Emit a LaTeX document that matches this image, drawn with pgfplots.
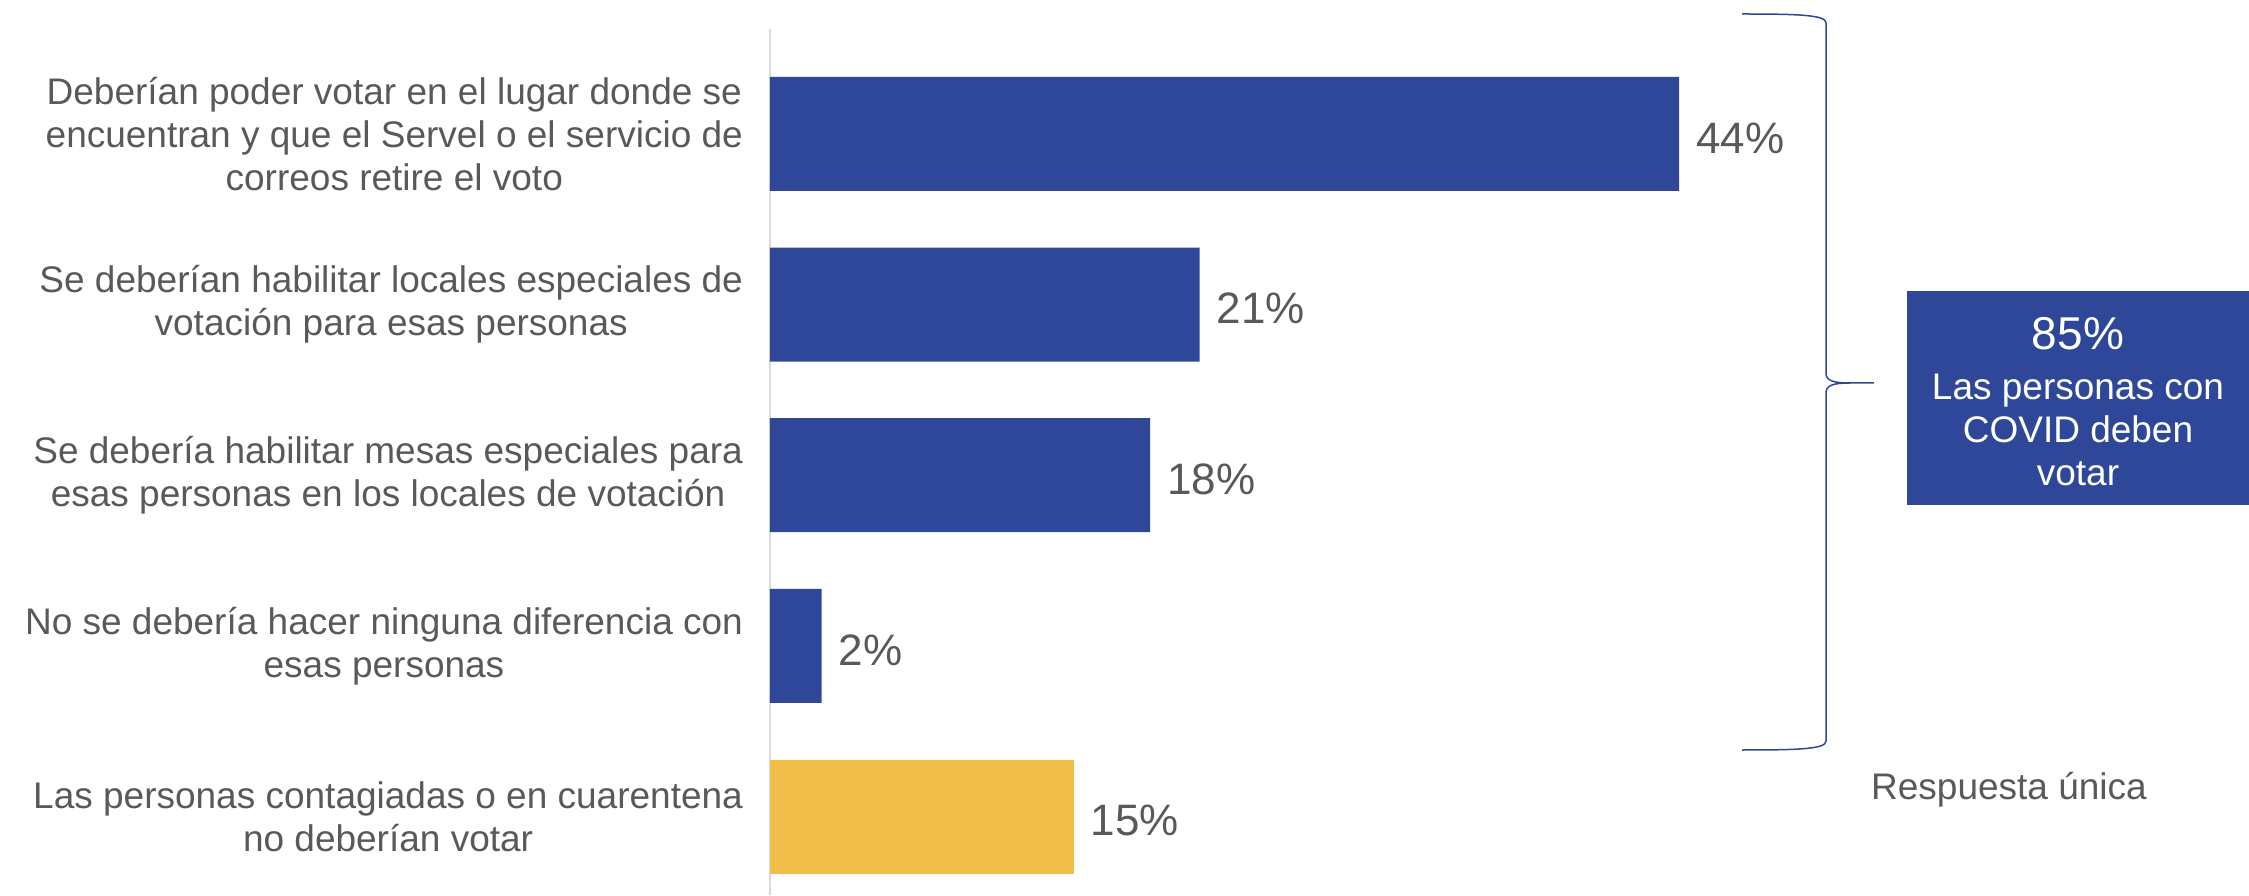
\documentclass[border=0pt]{standalone}
\usepackage{pgfplots}
\pgfplotsset{compat=1.18}
\usepackage{fontspec}
\setmainfont{Liberation Sans}
\definecolor{cblue}{HTML}{2E4799}
\definecolor{cyellow}{HTML}{F1BE4A}
\definecolor{ctext}{HTML}{595959}
\definecolor{caxis}{HTML}{D9D9D9}
\begin{document}
\begin{tikzpicture}
\useasboundingbox (-385pt,0pt) rectangle (739.5pt,447.5pt);
\begin{axis}[
  at={(0pt,0pt)}, anchor=south west, scale only axis,
  width=516.5pt, height=433pt,
  xbar, bar width=0.668, bar shift=0pt,
  xmin=0, xmax=50, ymin=-0.615, ymax=4.46, y dir=reverse,
  axis x line=none, axis y line*=left,
  y axis line style={draw=caxis, line width=1.2pt},
  ytick={0,1,2,3,4},
  yticklabels={{Deberían poder votar en el lugar donde se\\encuentran y que el Servel o el servicio de\\correos retire el voto},
    {Se deberían habilitar locales especiales de\\votación para esas personas},
    {Se debería habilitar mesas especiales para\\esas personas en los locales de votación},
    {No se debería hacer ninguna diferencia con\\esas personas},
    {Las personas contagiadas o en cuarentena\\no deberían votar}},
  ytick style={draw=none}, major tick length=0pt,
  yticklabel style={align=center, font=\fontsize{18.5}{21.5}\selectfont, text=ctext, xshift=-10pt},
  point meta=explicit symbolic,
  nodes near coords={\pgfplotspointmeta\%},
  every node near coord/.append style={font=\fontsize{22}{26}\selectfont, text=ctext, anchor=west, xshift=5pt, yshift=-2pt},
  clip=false,
]
\addplot[fill=cblue, draw=none] coordinates {(44,0) [44] (20.8,1) [21] (18.4,2) [18] (2.5,3) [2]};
\addplot[fill=cyellow, draw=none] coordinates {(14.7,4) [15]};
\end{axis}
% brace
\draw[cblue, line width=0.75pt] (486pt,440.5pt) .. controls (515pt,440.5pt) and (528pt,440pt) .. (528pt,436pt) -- (528pt,261pt) .. controls (528pt,257pt) and (532pt,256pt) .. (540pt,256pt) -- (552pt,256pt);
\draw[cblue, line width=0.75pt] (540pt,256pt) .. controls (532pt,256pt) and (528pt,255pt) .. (528pt,251pt) -- (528pt,77pt) .. controls (528pt,73pt) and (515pt,72.5pt) .. (486pt,72.5pt);
% box
\fill[cblue] (568.5pt,195pt) rectangle (739.5pt,302pt);
\node[text=white, font=\fontsize{23}{27}\selectfont] at (654pt,280.5pt) {85\%};
\node[text=white, align=center, font=\fontsize{18.5}{21.5}\selectfont] at (654pt,232.5pt) {Las personas con\\COVID deben\\votar};
\node[text=ctext, font=\fontsize{18.5}{21.5}\selectfont] at (619.5pt,52.5pt) {Respuesta única};
\end{tikzpicture}
\end{document}
